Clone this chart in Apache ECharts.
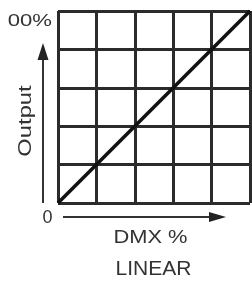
<!DOCTYPE html>
<html>
<head>
<meta charset="utf-8">
<script src="https://cdn.jsdelivr.net/npm/echarts@6/dist/echarts.min.js"></script>
<style>
  html, body { margin: 0; padding: 0; background: #fff; }
  #chart { width: 252px; height: 283px; }
</style>
</head>
<body>
<div id="chart"></div>
<script>
// linear dimmer curve: DMX % in -> output %
var dmxPercent = [0, 100];
var outputPercent = [0, 100];
var tickStep = 20;
// top label is clipped by the image edge in the source ("100%" -> "00%")
var topLabel = '00%';
var bottomLabel = '0';

var curve = dmxPercent.map(function (d, i) { return [d, outputPercent[i]]; });

var gridColor = '#2b2b2b';
var font = 'Liberation Sans, Arial, sans-serif';

var option = {
    animation: false,
    backgroundColor: '#fff',
    grid: { left: 58, top: 11, right: 2, bottom: 80 },
    xAxis: {
        type: 'value', min: 0, max: 100, interval: tickStep,
        axisLine: { show: false }, axisTick: { show: false }, axisLabel: { show: false },
        splitLine: { show: true, lineStyle: { color: gridColor, width: 3 } }
    },
    yAxis: {
        type: 'value', min: 0, max: 100, interval: tickStep,
        axisLine: { show: false }, axisTick: { show: false }, axisLabel: { show: false },
        splitLine: { show: true, lineStyle: { color: gridColor, width: 3 } }
    },
    series: [{
        type: 'line',
        data: curve,
        symbol: 'none',
        lineStyle: { color: '#111', width: 3.5 }
    }],
    graphic: [
        // y arrow
        { type: 'line', shape: { x1: 43, y1: 203, x2: 43, y2: 55 }, style: { stroke: '#333', lineWidth: 2 } },
        { type: 'polygon', shape: { points: [[43, 43], [37.5, 60], [48.5, 60]] }, style: { fill: '#222' } },
        // x arrow
        { type: 'line', shape: { x1: 63, y1: 217, x2: 214, y2: 217 }, style: { stroke: '#333', lineWidth: 2 } },
        { type: 'polygon', shape: { points: [[226, 217], [209, 212], [209, 222]] }, style: { fill: '#222' } },
        // labels (source lettering is a bit wider than Arial)
        { type: 'text', x: 52, y: 21, scaleX: 1.3, style: { text: topLabel, font: '17px ' + font, fill: '#333', align: 'right', verticalAlign: 'middle' } },
        { type: 'text', x: 47.5, y: 218, style: { text: bottomLabel, font: '18px ' + font, fill: '#333', align: 'center', verticalAlign: 'middle' } },
        { type: 'text', x: 26, y: 121, rotation: Math.PI / 2, scaleX: 1.25, style: { text: 'Output', font: '19px ' + font, fill: '#333', align: 'center', verticalAlign: 'middle' } },
        { type: 'text', x: 150.5, y: 238, scaleX: 1.15, style: { text: 'DMX %', font: '19px ' + font, fill: '#333', align: 'center', verticalAlign: 'middle' } },
        { type: 'text', x: 153.5, y: 269, style: { text: 'LINEAR', font: '21px ' + font, fill: '#333', align: 'center', verticalAlign: 'middle' } }
    ]
};

var myChart = echarts.init(document.getElementById('chart'));
myChart.setOption(option);
</script>
</body>
</html>
